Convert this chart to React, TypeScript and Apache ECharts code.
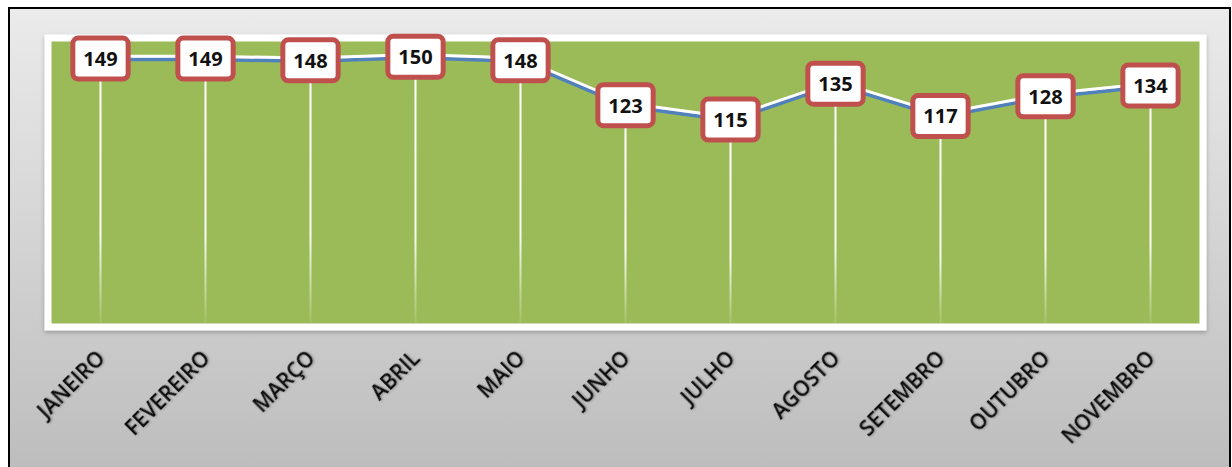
import React, { useEffect, useRef } from "react";
import * as echarts from "echarts";

const months = [
  "JANEIRO",
  "FEVEREIRO",
  "MARÇO",
  "ABRIL",
  "MAIO",
  "JUNHO",
  "JULHO",
  "AGOSTO",
  "SETEMBRO",
  "OUTUBRO",
  "NOVEMBRO",
];
const values = [149, 149, 148, 150, 148, 123, 115, 135, 117, 128, 134];

export default function App() {
  const ref = useRef<HTMLDivElement>(null);
  useEffect(() => {
    document.body.style.margin = "0";
    const chart = echarts.init(ref.current!, null, { renderer: "svg" });
    chart.setOption({
      animation: false,
      graphic: [
        {
          type: "rect",
          z: -100,
          silent: true,
          shape: { x: 9, y: 8, width: 1221, height: 470 },
          style: {
            fill: new echarts.graphic.LinearGradient(0, 0, 0, 1, [
              { offset: 0, color: "#ebebeb" },
              { offset: 1, color: "#bcbcbc" },
            ]),
            stroke: "#000",
            lineWidth: 2,
          },
        },
      ],
      grid: {
        left: 48,
        right: 29,
        top: 38,
        bottom: 140,
        show: true,
        backgroundColor: "#9bbb59",
        borderColor: "#ffffff",
        borderWidth: 7,
        shadowColor: "rgba(0,0,0,0.25)",
        shadowBlur: 4,
        shadowOffsetY: 2,
      },
      xAxis: {
        type: "category",
        data: months,
        axisLine: { show: false },
        axisTick: { show: false },
        axisLabel: {
          rotate: 45,
          margin: 27,
          interval: 0,
          color: "#111",
          fontFamily: "Open Sans",
          fontWeight: 600,
          fontSize: 21,
          textShadowColor: "rgba(0,0,0,0.3)",
          textShadowBlur: 2,
          textShadowOffsetX: 1,
          textShadowOffsetY: 1,
        },
      },
      yAxis: {
        type: "value",
        min: 0,
        max: 161,
        show: false,
        splitLine: { show: false },
      },
      series: [
        {
          type: "bar",
          data: values,
          barWidth: 2,
          z: 1,
          itemStyle: {
            color: new echarts.graphic.LinearGradient(0, 0, 0, 1, [
              { offset: 0, color: "rgba(255,255,255,1)" },
              { offset: 0.65, color: "rgba(255,255,255,0.95)" },
              { offset: 1, color: "rgba(255,255,255,0.05)" },
            ]),
          },
        },
        {
          type: "line",
          data: values,
          z: 3,
          symbol: "circle",
          symbolSize: 4,
          itemStyle: { color: "#4f81bd" },
          lineStyle: {
            color: "#4f81bd",
            width: 3.5,
            shadowColor: "#ffffff",
            shadowBlur: 0,
            shadowOffsetY: -3,
          },
          label: {
            show: true,
            position: "inside",
            offset: [0, -1],
            fontFamily: "Open Sans",
            fontWeight: "bold",
            fontSize: 20,
            color: "#111",
            backgroundColor: "#ffffff",
            borderColor: "#c0504d",
            borderWidth: 5,
            borderRadius: 3,
            padding: [6, 8],
            lineHeight: 24,
          },
        },
      ],
    });
    return () => chart.dispose();
  }, []);
  return <div ref={ref} style={{ width: 1232, height: 467 }} />;
}
